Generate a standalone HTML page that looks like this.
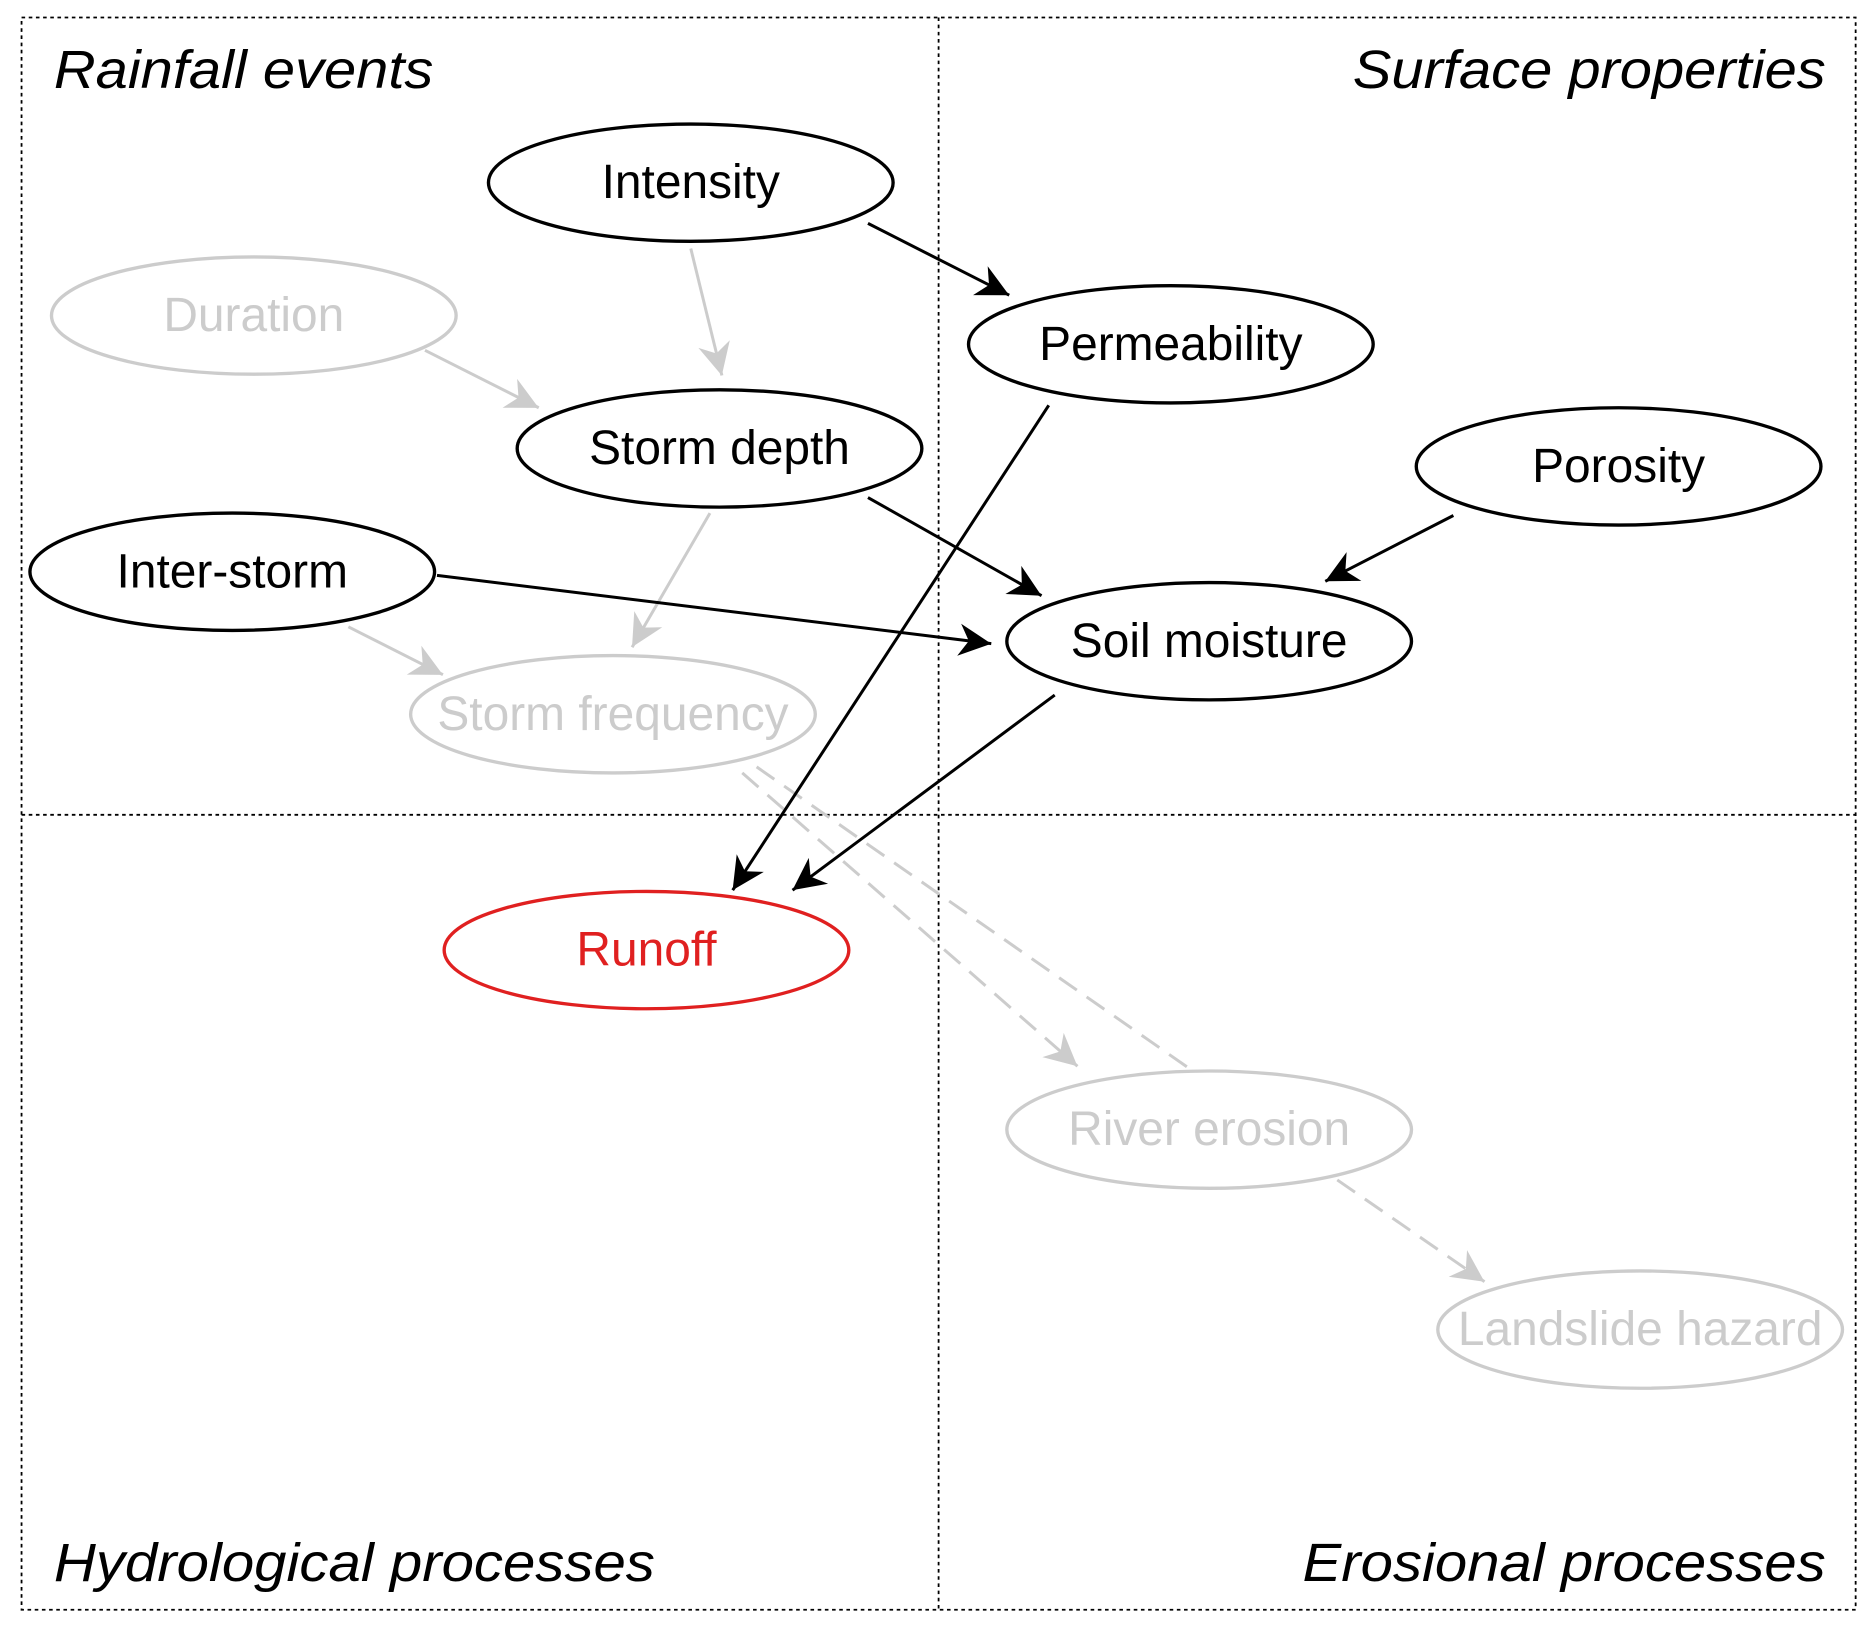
<!DOCTYPE html>
<html><head><meta charset="utf-8"><style>
html,body{margin:0;padding:0;background:#fff}
svg{display:block}
text{font-family:"Liberation Sans",Arial,sans-serif}
</style></head><body>
<svg width="1876" height="1626" viewBox="0 0 1567 1357" xmlns="http://www.w3.org/2000/svg">
<defs>
<marker id="ab" viewBox="0 0 10 10" refX="9" refY="5" markerWidth="9" markerHeight="9" markerUnits="userSpaceOnUse" orient="auto" style="overflow:visible">
<path d="M0,0 L10,5 L0,10 L3,5 z" fill="#000" transform="scale(3) translate(-7,-3.3)"/>
</marker>
<marker id="ag" viewBox="0 0 10 10" refX="9" refY="5" markerWidth="9" markerHeight="9" markerUnits="userSpaceOnUse" orient="auto" style="overflow:visible">
<path d="M0,0 L10,5 L0,10 L3,5 z" fill="#ccc" transform="scale(3) translate(-7,-3.3)"/>
</marker>
</defs>
<g fill="none" stroke="#000" stroke-width="1.5" stroke-dasharray="3,3">
<rect x="18" y="14" width="1532" height="1330"/>
<line x1="784" y1="14" x2="784" y2="1344"/>
<line x1="18" y1="680" x2="1550" y2="680"/>
</g>
<g font-style="italic" font-size="45" fill="#000" lengthAdjust="spacingAndGlyphs">
<text x="45" y="73" textLength="317" lengthAdjust="spacingAndGlyphs">Rainfall events</text>
<text x="1130" y="73" textLength="395" lengthAdjust="spacingAndGlyphs">Surface properties</text>
<text x="45" y="1320" textLength="502" lengthAdjust="spacingAndGlyphs">Hydrological processes</text>
<text x="1088" y="1320" textLength="437" lengthAdjust="spacingAndGlyphs">Erosional processes</text>
</g>
<g stroke="#ccc" stroke-width="2.5" fill="none">
<line x1="577" y1="207" x2="603" y2="313" marker-end="url(#ag)"/>
<line x1="355" y1="292" x2="450" y2="340" marker-end="url(#ag)"/>
<line x1="593" y1="428" x2="528" y2="540" marker-end="url(#ag)"/>
<line x1="291" y1="523" x2="370" y2="563" marker-end="url(#ag)"/>
<line x1="620" y1="645" x2="900" y2="890" stroke-dasharray="18,10" marker-end="url(#ag)"/>
<line x1="632" y1="640" x2="995" y2="893" stroke-dasharray="18,10"/>
<line x1="1117" y1="985" x2="1240" y2="1070" stroke-dasharray="18,10" marker-end="url(#ag)"/>
</g>
<g stroke="#000" stroke-width="2.5" fill="none">
<line x1="725" y1="186" x2="843" y2="246" marker-end="url(#ab)"/>
<line x1="725" y1="415" x2="870" y2="497" marker-end="url(#ab)"/>
<line x1="365" y1="480" x2="828" y2="537" marker-end="url(#ab)"/>
<line x1="876" y1="338" x2="612" y2="743" marker-end="url(#ab)"/>
<line x1="1214" y1="430" x2="1107" y2="485" marker-end="url(#ab)"/>
<line x1="881" y1="580" x2="662" y2="743" marker-end="url(#ab)"/>
</g>
<g stroke-width="2.8" fill="none" stroke="#000">
<ellipse cx="577" cy="152" rx="169" ry="49"/>
<ellipse cx="978" cy="287" rx="169" ry="49"/>
<ellipse cx="601" cy="374" rx="169" ry="49"/>
<ellipse cx="1352" cy="389" rx="169" ry="49"/>
<ellipse cx="194" cy="477" rx="169" ry="49"/>
<ellipse cx="1010" cy="535" rx="169" ry="49"/>
</g>
<g stroke-width="2.8" fill="none" stroke="#ccc">
<ellipse cx="212" cy="263" rx="169" ry="49"/>
<ellipse cx="512" cy="596" rx="169" ry="49"/>
<ellipse cx="1010" cy="943" rx="169" ry="49"/>
<ellipse cx="1370" cy="1110" rx="169" ry="49"/>
</g>
<ellipse cx="540" cy="793" rx="169" ry="49" stroke="#e02020" stroke-width="2.8" fill="none"/>
<g font-size="40" text-anchor="middle" fill="#000">
<text x="577" y="165">Intensity</text>
<text x="978" y="300">Permeability</text>
<text x="601" y="387">Storm depth</text>
<text x="1352" y="402">Porosity</text>
<text x="194" y="490">Inter-storm</text>
<text x="1010" y="548">Soil moisture</text>
</g>
<g font-size="40" text-anchor="middle" fill="#ccc">
<text x="212" y="276">Duration</text>
<text x="512" y="609">Storm frequency</text>
<text x="1010" y="956">River erosion</text>
<text x="1370" y="1123">Landslide hazard</text>
</g>
<text x="540" y="806" font-size="40" text-anchor="middle" fill="#e02020">Runoff</text>
</svg>
</body></html>
